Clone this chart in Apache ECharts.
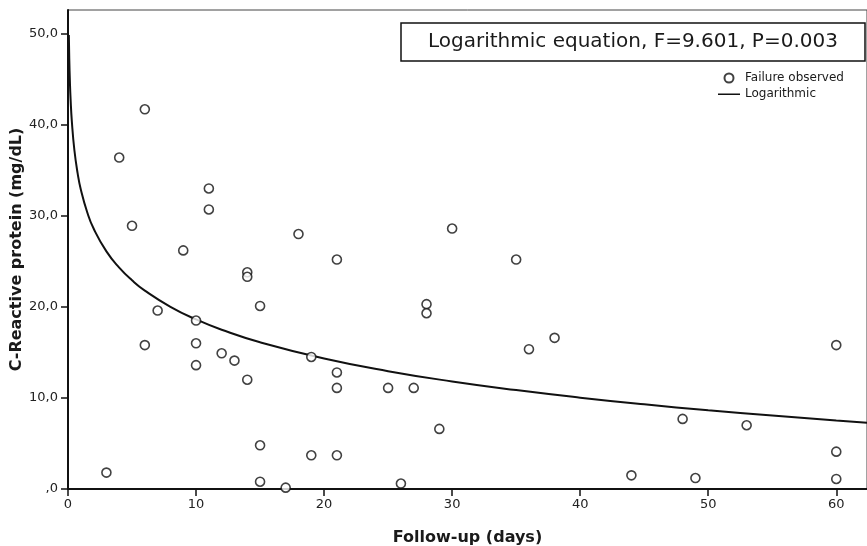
<!DOCTYPE html>
<html>
<head>
<meta charset="utf-8">
<script src="https://cdn.jsdelivr.net/npm/echarts@6/dist/echarts.min.js"></script>
<style>
  html, body { margin: 0; padding: 0; background: #fff; }
  #chart { width: 867px; height: 546px; }
</style>
</head>
<body>
<div id="chart"></div>
<script>
// observed failures: follow-up day and CRP value
const days = [3, 4, 5, 6, 6, 7, 9, 10, 10, 10, 11, 11, 12, 13, 14, 14, 14, 15, 15, 15,
  17, 18, 19, 19, 21, 21, 21, 21, 25, 26, 27, 28, 28, 29, 30, 35, 36, 38, 44, 48,
  49, 53, 60, 60, 60]
const crp = [1.8, 36.4, 28.9, 41.7, 15.8, 19.6, 26.2, 18.5, 16.0, 13.6, 33.0, 30.7, 14.9, 14.1, 23.8, 23.3, 12.0, 20.1, 4.8, 0.8,
  0.15, 28.0, 14.5, 3.7, 25.2, 12.8, 11.1, 3.7, 11.1, 0.6, 11.1, 20.3, 19.3, 6.6, 28.6, 25.2, 15.35, 16.6, 1.5, 7.7,
  1.2, 7.0, 15.8, 4.1, 1.1]

// logarithmic fit curve
const fitDays = [0.065, 0.1, 0.15, 0.2, 0.3, 0.5, 0.75, 1, 1.5, 2, 3, 4, 5, 6, 8, 10, 12, 15,
  20, 25, 30, 35, 40, 45, 50, 55, 60, 62.4]
const fitCrp = [49.85, 47.2, 44.66, 42.88, 40.37, 37.2, 34.69, 32.9, 30.39, 28.6, 26.09, 24.31, 22.92, 21.79, 20.01, 18.62, 17.49, 16.11,
  14.33, 12.94, 11.81, 10.86, 10.03, 9.30, 8.65, 8.06, 7.52, 7.27]

const xTicks = [0, 10, 20, 30, 40, 50, 60]
const yTicks = [0, 10, 20, 30, 40, 50]

const chart = echarts.init(document.getElementById('chart'))
const font = 'DejaVu Sans'

const option = {
  animation: false,
  textStyle: { fontFamily: font },
  title: {
    text: 'Logarithmic equation, F=9.601, P=0.003',
    left: 401,
    top: 23,
    padding: [7, 27, 7, 27],
    borderColor: '#111',
    borderWidth: 1.5,
    textStyle: { fontFamily: font, fontSize: 20, fontWeight: 'normal', color: '#1a1a1a', lineHeight: 24 }
  },
  legend: {
    orient: 'vertical',
    left: 713,
    top: 66,
    itemWidth: 22,
    itemHeight: 9,
    itemGap: 2,
    textStyle: { fontFamily: font, fontSize: 12, color: '#1a1a1a', lineHeight: 14 },
    data: [
      { name: 'Failure observed', icon: 'circle' },
      { name: 'Logarithmic', icon: 'path://M0,0L0.01,0L0.01,0.01Z M0,4L22,4L22,5.6L0,5.6Z M21.99,9L22,9L22,8.99Z',
        itemStyle: { color: '#111', borderWidth: 0 } }
    ]
  },
  grid: {
    left: 68, right: 0, top: 10, bottom: 57,
    outerBoundsMode: 'none',
    containLabel: false,
    show: true, borderColor: '#444', borderWidth: 1
  },
  xAxis: {
    type: 'value',
    min: 0,
    max: 62.4,
    interval: 10,
    name: 'Follow-up (days)',
    nameLocation: 'middle',
    nameGap: 41,
    nameMoveOverlap: false,
    nameTextStyle: { fontFamily: font, fontSize: 16, fontWeight: 'bold', color: '#1a1a1a' },
    axisLine: { lineStyle: { color: '#111', width: 2 } },
    axisTick: { length: 7, lineStyle: { color: '#111', width: 1.5 }, customValues: xTicks },
    axisLabel: { margin: 9, fontSize: 13, color: '#222', customValues: xTicks },
    splitLine: { show: false }
  },
  yAxis: {
    type: 'value',
    min: 0,
    max: 52.6,
    interval: 10,
    name: 'C-Reactive protein (mg/dL)',
    nameLocation: 'middle',
    nameGap: 43,
    nameMoveOverlap: false,
    nameTextStyle: { fontFamily: font, fontSize: 16, fontWeight: 'bold', color: '#1a1a1a' },
    axisLine: { lineStyle: { color: '#111', width: 2 } },
    axisTick: { length: 7, lineStyle: { color: '#111', width: 1.5 }, customValues: yTicks },
    axisLabel: {
      margin: 10, fontSize: 13, color: '#222', customValues: yTicks,
      formatter: function (v) {
        return v === 0 ? ',0' : v.toFixed(1).replace('.', ',')
      }
    },
    splitLine: { show: false }
  },
  series: [
    {
      name: 'Logarithmic',
      type: 'line',
      smooth: true,
      symbol: 'none',
      data: fitDays.map(function (d, i) { return [d, fitCrp[i]] }),
      lineStyle: { color: '#111', width: 2 },
      itemStyle: { color: '#111' },
      z: 2
    },
    {
      name: 'Failure observed',
      type: 'scatter',
      symbol: 'circle',
      symbolSize: 9,
      data: days.map(function (d, i) { return [d, crp[i]] }),
      itemStyle: { color: '#fff', borderColor: '#111', borderWidth: 1.6 },
      z: 3
    }
  ]
}

chart.setOption(option)
</script>
</body>
</html>
